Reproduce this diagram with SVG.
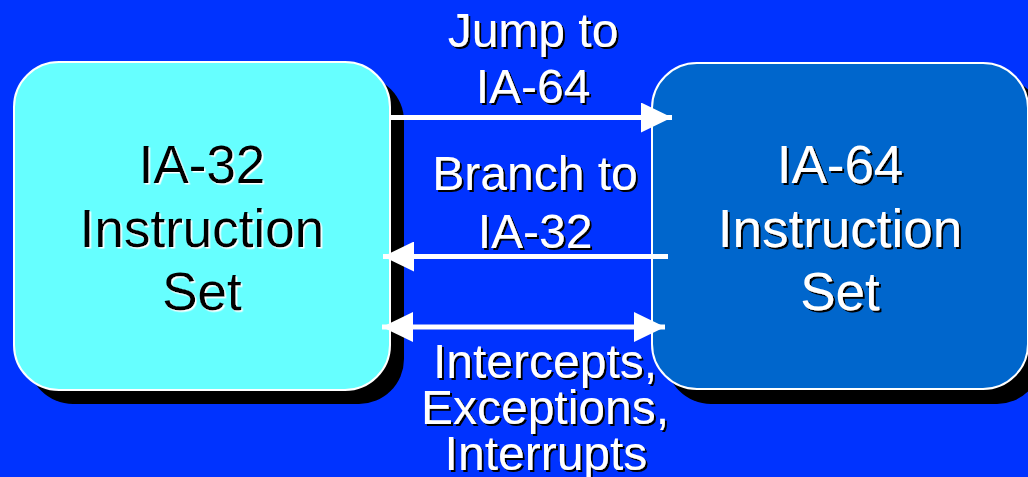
<svg xmlns="http://www.w3.org/2000/svg" width="1028" height="477" viewBox="0 0 1028 477">
  <style>
    text { font-family: "Liberation Sans", Arial, sans-serif; text-anchor: middle; }
    .box { font-size: 53px; }
    .lbl { font-size: 48px; fill: #ffffff; filter: url(#shB); }
    .wt { fill: #ffffff; filter: url(#shB); }
    .bk { fill: #000000; filter: url(#shW); }
    .shadow { fill: #000000; }
    .edge { stroke: #ffffff; stroke-width: 5; fill: none; }
  </style>
  <defs>
    <filter id="shB" x="-10%" y="-10%" width="120%" height="130%">
      <feDropShadow dx="2" dy="2" stdDeviation="0" flood-color="#000000" flood-opacity="1"/>
    </filter>
    <filter id="shW" x="-10%" y="-10%" width="120%" height="130%">
      <feDropShadow dx="1.5" dy="1.5" stdDeviation="0" flood-color="#ffffff" flood-opacity="1"/>
    </filter>
    <marker id="ah" markerUnits="userSpaceOnUse" markerWidth="31" markerHeight="30" refX="31" refY="15" orient="auto-start-reverse" viewBox="0 0 31 30">
      <path d="M0,0 L31,15 L0,30 Z" fill="#ffffff"/>
    </marker>
  </defs>
  <rect x="0" y="0" width="1028" height="477" fill="#0033FF"/>

  <g id="node-ia32">
    <rect class="shadow" x="28" y="76" width="376" height="328" rx="45" ry="45"/>
    <rect x="14" y="62" width="376" height="328" rx="45" ry="45" fill="#66FFFF" stroke="#ffffff" stroke-width="2"/>
    <g class="box">
      <text class="bk" x="202" y="183">IA-32</text>
      <text class="bk" x="202" y="247">Instruction</text>
      <text class="bk" x="202" y="310">Set</text>
    </g>
  </g>

  <g id="node-ia64">
    <rect class="shadow" x="666" y="77" width="376" height="327" rx="45" ry="45"/>
    <rect x="652" y="63" width="376" height="326" rx="45" ry="45" fill="#0066CC" stroke="#ffffff" stroke-width="2"/>
    <g class="box">
      <text class="wt" x="840" y="183">IA-64</text>
      <text class="wt" x="840" y="247">Instruction</text>
      <text class="wt" x="840" y="310">Set</text>
    </g>
  </g>

  <g id="connectors">
    <line class="edge" x1="390" y1="117.5" x2="672" y2="117.5" marker-end="url(#ah)"/>
    <line class="edge" x1="668" y1="256.5" x2="383" y2="256.5" marker-end="url(#ah)"/>
    <line class="edge" x1="382" y1="327" x2="665" y2="327" marker-start="url(#ah)" marker-end="url(#ah)"/>
  </g>

  <g id="label-jump">
    <text class="lbl" x="533" y="47">Jump to</text>
    <text class="lbl" x="533" y="103">IA-64</text>
  </g>

  <g id="label-branch">
    <text class="lbl" x="535" y="190">Branch to</text>
    <text class="lbl" x="535" y="248">IA-32</text>
  </g>

  <g id="label-intercepts">
    <text class="lbl" x="545" y="378">Intercepts,</text>
    <text class="lbl" x="545" y="424">Exceptions,</text>
    <text class="lbl" x="546" y="470">Interrupts</text>
  </g>
</svg>
